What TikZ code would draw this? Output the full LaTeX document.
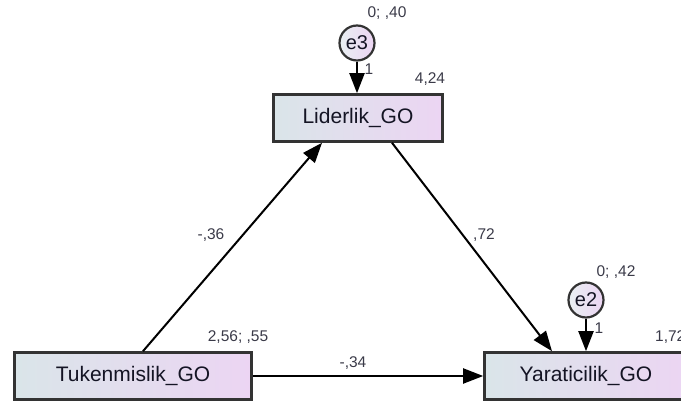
\documentclass[tikz,border=0pt]{standalone}
\usepackage{fontspec}
\setmainfont{Liberation Sans}
\usetikzlibrary{arrows.meta}
\definecolor{boxleft}{HTML}{DAE5E9}
\definecolor{boxright}{HTML}{ECD5F3}
\definecolor{edgegray}{HTML}{333333}
\definecolor{labelgray}{HTML}{3A3A48}
\definecolor{nametext}{HTML}{141424}
\tikzset{
  varbox/.style={draw=edgegray, line width=2.6pt, left color=boxleft, right color=boxright,
    minimum height=47pt, inner sep=0pt, text=nametext,
    font=\fontsize{21}{22}\selectfont},
  errnode/.style={circle, draw=edgegray, line width=2.2pt, left color=boxleft!60!white,
    right color=boxright, minimum size=35pt, inner sep=0pt, text=nametext,
    font=\fontsize{20}{21}\selectfont},
  path/.style={draw=black, line width=2pt, -{Triangle[length=20pt,width=15pt]}},
  est/.style={text=labelgray, inner sep=0pt, font=\fontsize{15.5}{16}\selectfont}
}
\begin{document}
\begin{tikzpicture}[x=1pt,y=-1pt]
\useasboundingbox (0,0) rectangle (681,403);
% observed variables
\node[varbox, minimum width=169pt] (lid) at (358,118) {Liderlik\_GO};
\node[varbox, minimum width=237pt] (tuk) at (133,376) {Tukenmislik\_GO};
\node[varbox, minimum width=203pt] (yar) at (586,376) {Yaraticilik\_GO};
% error terms
\node[errnode] (e3) at (357,43) {e3};
\node[errnode] (e2) at (586,300) {e2};
% regression paths
\draw[path] ([xshift=10pt]tuk.north) -- ([xshift=-36pt]lid.south);
\draw[path] ([xshift=34pt]lid.south) -- ([xshift=-34pt]yar.north);
\draw[path] (tuk.east) -- (yar.west);
\draw[path] (e3.south) -- (e3.south |- lid.north);
\draw[path] (e2.south) -- (yar.north);
% estimates
\node[est] (c1) at (211,235) {-,36};
\node[est] (c2) at (484,235) {,72};
\node[est] (c3) at (353,363) {-,34};
\node[est] (v1) at (238,337) {2,56; ,55};
\node[est] (v2) at (430,79) {4,24};
\node[est] (v3) at (387,13) {0; ,40};
\node[est] (v4) at (616,272) {0; ,42};
\node[est, anchor=west] (v5) at (655,337) {1,72};
\node[est] (w1) at (369,69) {1};
\node[est] (w2) at (599,328) {1};
\end{tikzpicture}
\end{document}
